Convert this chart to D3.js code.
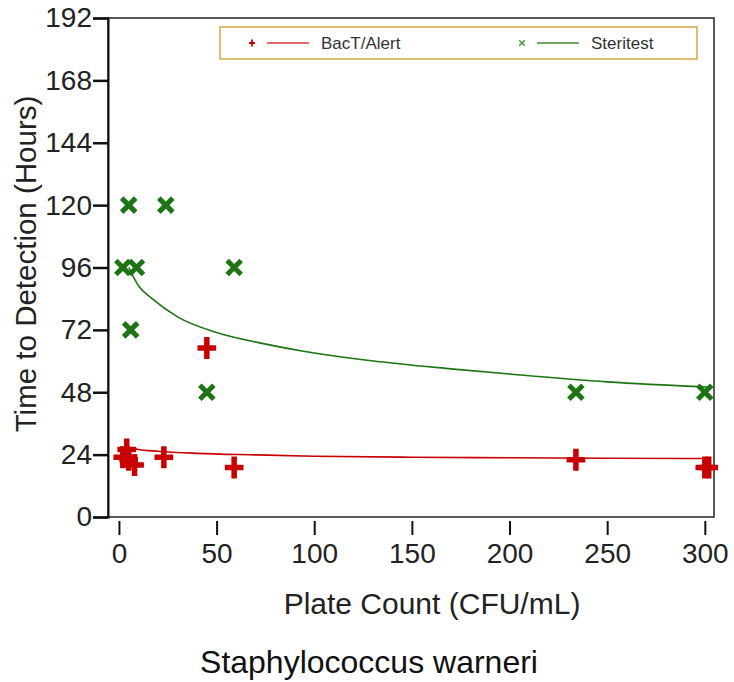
<!DOCTYPE html>
<html>
<head>
<meta charset="utf-8">
<script src="https://cdn.jsdelivr.net/npm/d3@7"></script>
<style>
  body { margin: 0; background: #fff; }
  svg { display: block; font-family: "Liberation Sans", Arial, sans-serif; }
</style>
</head>
<body>
<div id="chart"></div>
<script>
// plate count (CFU/mL) vs time to detection (hours)
const bactX = [2, 4, 5, 8, 23, 45, 59, 234, 300, 302];
const bactY = [23, 26, 22, 20, 23, 65, 19, 22, 19, 19];
const sterX = [2, 9, 5, 6, 24, 45, 59, 234, 300];
const sterY = [96, 96, 120, 72, 120, 48, 96, 48, 48];

// fitted curves
const bactFitX = [5, 10, 20, 40, 70, 100, 150, 200, 250, 302];
const bactFitY = [26.8, 26, 25.3, 24.5, 23.9, 23.4, 23, 22.8, 22.6, 22.5];
const sterFitX = [5, 10, 17, 30, 50, 72, 93, 125, 170, 200, 250, 302];
const sterFitY = [96, 89, 84, 77, 71, 67, 64, 60.5, 57, 55, 52, 50];

const yTicks = [0, 24, 48, 72, 96, 120, 144, 168, 192];
const xTicks = [0, 50, 100, 150, 200, 250, 300];
const seriesNames = ["BacT/Alert", "Steritest"];

const W = 734, H = 682;
const red = "#c80000", green = "#1c7412";

const svg = d3.select("#chart").append("svg")
  .attr("width", W).attr("height", H);

const x = d3.scaleLinear().domain([-5.6, 304.7]).range([108, 714]);
const y = d3.scaleLinear().domain([0, 192]).range([517, 18]);

// frame
svg.append("rect")
  .attr("x", x.range()[0]).attr("y", y.range()[1])
  .attr("width", x.range()[1] - x.range()[0])
  .attr("height", y.range()[0] - y.range()[1])
  .attr("fill", "none").attr("stroke", "#222").attr("stroke-width", 1.5);

// y axis
const yAxis = svg.append("g")
  .attr("transform", "translate(" + x.range()[0] + ",0)")
  .call(d3.axisLeft(y).tickValues(yTicks).tickSize(15).tickPadding(1));
yAxis.select(".domain").attr("stroke", "#111").attr("stroke-width", 2);
yAxis.selectAll(".tick line").attr("stroke", "#111").attr("stroke-width", 2.5);
yAxis.selectAll(".tick text").attr("font-size", 28).attr("fill", "#222")
  .attr("font-family", "Liberation Sans, Arial, sans-serif");

// x axis (ticks below the frame)
const xAxis = svg.append("g")
  .attr("transform", "translate(0," + (y.range()[0] + 4) + ")")
  .call(d3.axisBottom(x).tickValues(xTicks).tickSize(14).tickPadding(8));
xAxis.select(".domain").remove();
xAxis.selectAll(".tick line").attr("stroke", "#111").attr("stroke-width", 2);
xAxis.selectAll(".tick text").attr("font-size", 28).attr("fill", "#222")
  .attr("font-family", "Liberation Sans, Arial, sans-serif");

// axis titles
svg.append("text")
  .attr("transform", "translate(36,264) rotate(-90)")
  .attr("text-anchor", "middle")
  .attr("font-size", 29.5).attr("fill", "#222")
  .text("Time to Detection (Hours)");

svg.append("text")
  .attr("x", 432).attr("y", 614)
  .attr("text-anchor", "middle")
  .attr("font-size", 30).attr("fill", "#222")
  .text("Plate Count (CFU/mL)");

svg.append("text")
  .attr("x", 369).attr("y", 673)
  .attr("text-anchor", "middle")
  .attr("font-size", 32).attr("fill", "#111")
  .text("Staphylococcus warneri");

// fit lines
const line = d3.line()
  .x(d => x(d[0])).y(d => y(d[1]))
  .curve(d3.curveMonotoneX);

svg.append("path")
  .datum(d3.zip(sterFitX, sterFitY))
  .attr("d", line)
  .attr("fill", "none").attr("stroke", green).attr("stroke-width", 1.6);

svg.append("path")
  .datum(d3.zip(bactFitX, bactFitY))
  .attr("d", line)
  .attr("fill", "none").attr("stroke", red).attr("stroke-width", 1.6);

// markers
function plus(g, s, w) {
  return g.append("path")
    .attr("d", "M0," + (-s) + "V" + s + "M" + (-s * 0.85) + ",0H" + (s * 0.85))
    .attr("stroke-width", w);
}
function cross(g, s, w) {
  return g.append("path")
    .attr("d", "M" + (-s) + "," + (-s) + "L" + s + "," + s + "M" + (-s) + "," + s + "L" + s + "," + (-s))
    .attr("stroke-width", w);
}

svg.append("g").selectAll("g")
  .data(d3.zip(sterX, sterY))
  .join("g")
  .attr("transform", d => "translate(" + x(d[0]) + "," + y(d[1]) + ")")
  .each(function() { cross(d3.select(this), 7, 5).attr("stroke", green); });

svg.append("g").selectAll("g")
  .data(d3.zip(bactX, bactY))
  .join("g")
  .attr("transform", d => "translate(" + x(d[0]) + "," + y(d[1]) + ")")
  .each(function() { plus(d3.select(this), 11, 5.5).attr("stroke", red); });

// legend
const lg = svg.append("g");
lg.append("rect")
  .attr("x", 220).attr("y", 27).attr("width", 477).attr("height", 32)
  .attr("fill", "#fff").attr("stroke", "#d4a843").attr("stroke-width", 1.5);

const legendItems = [
  { name: seriesNames[0], color: red, lineColor: "#d43a3a", mx: 252, kind: "plus" },
  { name: seriesNames[1], color: "#4a9a3a", lineColor: "#3f8a2e", mx: 522, kind: "cross" }
];
legendItems.forEach(it => {
  const m = lg.append("g").attr("transform", "translate(" + it.mx + ",43)");
  if (it.kind === "plus") plus(m, 3.5, 1.8).attr("stroke", it.color);
  else cross(m, 2.8, 1.5).attr("stroke", it.color);
  lg.append("line")
    .attr("x1", it.mx + 15).attr("x2", it.mx + 57)
    .attr("y1", 43).attr("y2", 43)
    .attr("stroke", it.lineColor).attr("stroke-width", 1.6);
  lg.append("text")
    .attr("x", it.mx + 69).attr("y", 49)
    .attr("font-size", 17).attr("fill", "#333")
    .text(it.name);
});
</script>
</body>
</html>
